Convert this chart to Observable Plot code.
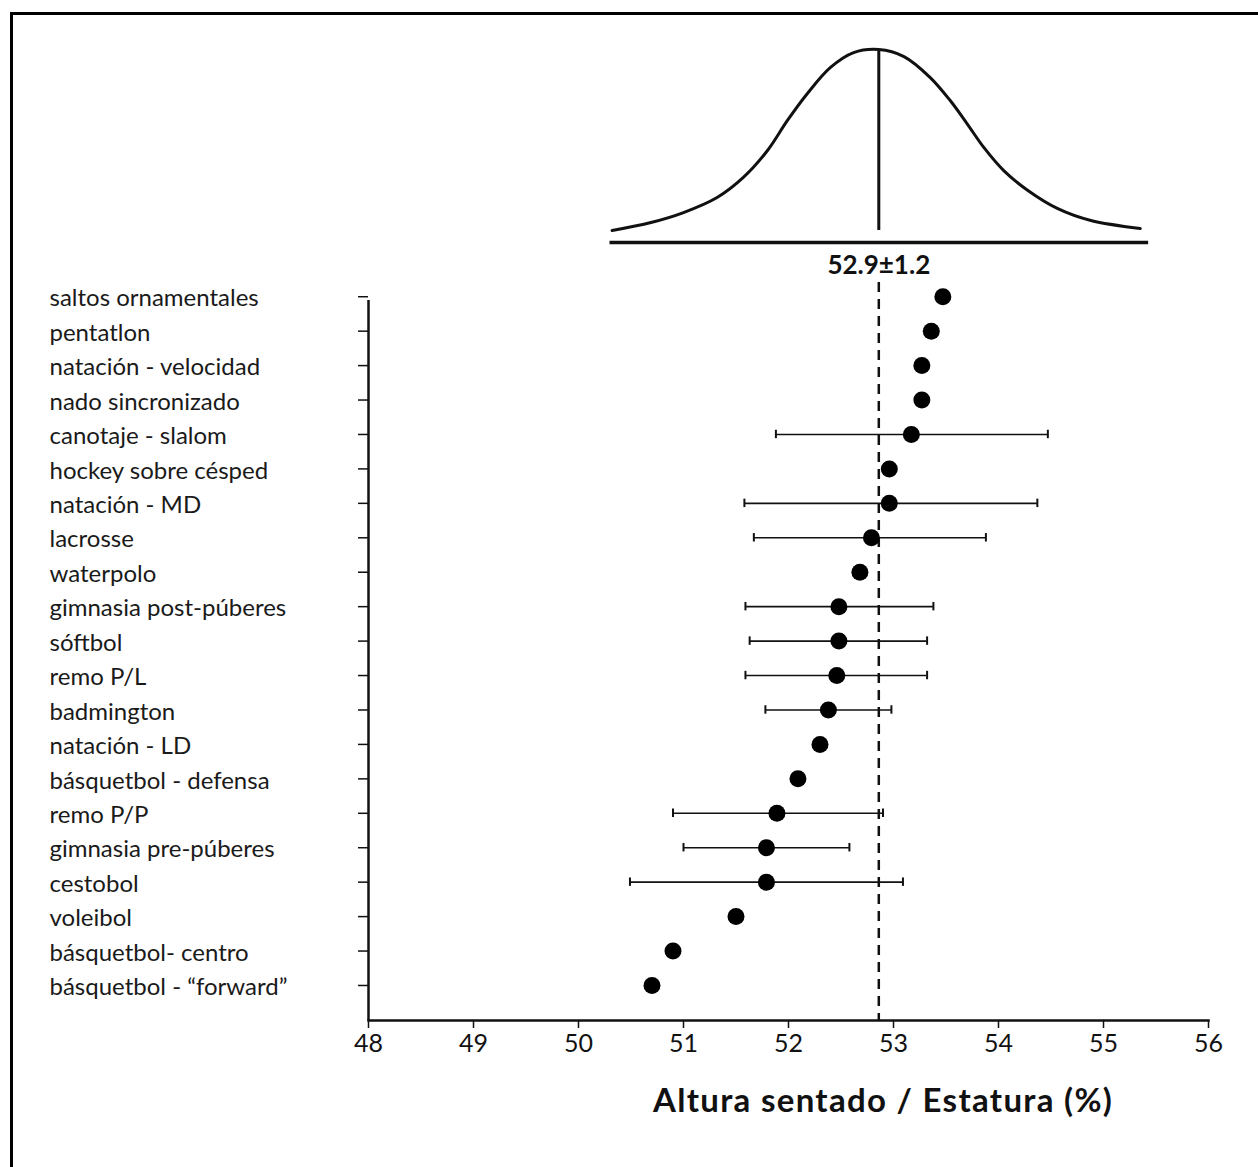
<!DOCTYPE html>
<html>
<head>
<meta charset="utf-8">
<script src="https://cdn.jsdelivr.net/npm/d3@7"></script>
<script src="https://cdn.jsdelivr.net/npm/@observablehq/plot@0.6"></script>
<style>
  body { margin: 0; background: #fff; }
  #wrap { position: relative; width: 1258px; height: 1167px; background: #fff; overflow: hidden; font-family: Lato, "Open Sans", sans-serif; }
  #border { position: absolute; left: 10px; top: 12px; right: -10px; bottom: -10px; border-top: 3px solid #000; border-left: 3px solid #000; }
  #bell, #main { position: absolute; left: 0; top: 0; }
  #xtitle { position: absolute; left: 0; width: 1258px; top: 1079px; text-align: left; padding-left: 653px; box-sizing: border-box; font-family: Lato, sans-serif; font-weight: 700; font-size: 33px; letter-spacing: 1.3px; color: #111; }
</style>
</head>
<body>
<div id="wrap">
  <div id="border"></div>
  <div id="main"></div>
  <div id="bell"></div>
  <div id="xtitle">Altura sentado / Estatura (%)</div>
</div>
<script>
// ---- data ----
const categories = [
  "saltos ornamentales", "pentatlon", "natación - velocidad", "nado sincronizado",
  "canotaje - slalom", "hockey sobre césped", "natación - MD", "lacrosse", "waterpolo",
  "gimnasia post-púberes", "sóftbol", "remo P/L", "badmington", "natación - LD",
  "básquetbol - defensa", "remo P/P", "gimnasia pre-púberes", "cestobol", "voleibol",
  "básquetbol- centro", "básquetbol - “forward”"
];
const means = [53.47, 53.36, 53.27, 53.27, 53.17, 52.96, 52.96, 52.79, 52.68, 52.48, 52.48,
               52.46, 52.38, 52.30, 52.09, 51.89, 51.79, 51.79, 51.50, 50.90, 50.70];
const errLow  = [null, null, null, null, 51.88, null, 51.58, 51.67, null, 51.59, 51.63,
                 51.59, 51.78, null, null, 50.90, 51.00, 50.49, null, null, null];
const errHigh = [null, null, null, null, 54.47, null, 54.37, 53.88, null, 53.38, 53.32,
                 53.32, 52.98, null, null, 52.90, 52.58, 53.09, null, null, null];
const xTicks = [48, 49, 50, 51, 52, 53, 54, 55, 56];
const refMean = 52.86;
const refLabel = "52.9±1.2";
// bell curve (x in %, relative height)
const curveX = [50.32, 50.69, 51.0, 51.32, 51.57, 51.80, 51.99, 52.18, 52.40, 52.62, 52.86,
                53.10, 53.35, 53.54, 53.70, 53.86, 54.05, 54.28, 54.56, 54.88, 55.35];
const curveH = [0, 0.044, 0.099, 0.182, 0.293, 0.442, 0.608, 0.757, 0.901, 0.983, 1.0,
                0.961, 0.845, 0.718, 0.591, 0.459, 0.331, 0.221, 0.122, 0.055, 0.011];
const bellBase = [50.30, 55.43];

// ---- tables ----
const rows = categories.map((c, i) => ({name: c, mean: means[i], lo: errLow[i], hi: errHigh[i]}));
const errRows = rows.filter(d => d.lo != null);
const curve = curveX.map((x, i) => ({x, h: curveH[i]}));

const font = "Lato, 'Open Sans', sans-serif";

// ---- main chart ----
const main = Plot.plot({
  width: 1258,
  height: 1167,
  marginLeft: 368,
  marginRight: 50,
  marginTop: 300,
  marginBottom: 147,
  style: {fontFamily: font, color: "#111", background: "transparent", overflow: "visible"},
  x: {domain: [48, 56], ticks: xTicks},
  y: {type: "band", domain: categories, range: [279.0, 1002.2], padding: 0, round: false},
  marks: [
    Plot.ruleX([48], {stroke: "#111", strokeWidth: 2.5}),
    Plot.frame({anchor: "bottom", stroke: "#111", strokeWidth: 2.5}),
    Plot.axisY({tickSize: 10, tickFormat: () => "", label: null, stroke: "#111", strokeWidth: 1.5}),
    Plot.text(categories, {y: d => d, frameAnchor: "left", textAnchor: "start", dx: -319, dy: 2, fontSize: 24, fill: "#1a1a1a"}),
    Plot.axisX({ticks: xTicks, tickSize: 8, tickPadding: 6, fontSize: 25, stroke: "#111", strokeWidth: 1.5, fill: "#111", label: null}),
    Plot.ruleX([refMean], {stroke: "#111", strokeWidth: 2.5, strokeDasharray: "10,7", insetTop: -18}),
    Plot.ruleY(errRows, {y: "name", x1: "lo", x2: "hi", stroke: "#111", strokeWidth: 1.6}),
    Plot.tickX(errRows, {y: "name", x: "lo", stroke: "#111", strokeWidth: 2, insetTop: 13, insetBottom: 13}),
    Plot.tickX(errRows, {y: "name", x: "hi", stroke: "#111", strokeWidth: 2, insetTop: 13, insetBottom: 13}),
    Plot.dot(rows, {x: "mean", y: "name", r: 8.5, fill: "#000", stroke: "none"})
  ]
});
document.getElementById("main").appendChild(main);

// ---- bell curve ----
const bell = Plot.plot({
  width: 1258,
  height: 300,
  marginLeft: 368,
  marginRight: 50,
  marginTop: 0,
  marginBottom: 0,
  style: {fontFamily: font, color: "#111", background: "transparent", overflow: "visible"},
  x: {domain: [48, 56], axis: null},
  y: {domain: [0, 1], range: [230, 49], axis: null},
  marks: [
    Plot.line(curve, {x: "x", y: "h", curve: "catmull-rom", stroke: "#111", strokeWidth: 3}),
    Plot.ruleX([refMean], {y1: 0, y2: 1, stroke: "#111", strokeWidth: 3}),
    Plot.ruleY([-0.066], {x1: bellBase[0], x2: bellBase[1], stroke: "#111", strokeWidth: 3.5}),
    Plot.text([refLabel], {x: refMean, y: 0, dy: 35, text: d => d, fontSize: 26, fontWeight: 700, fill: "#111"})
  ]
});
document.getElementById("bell").appendChild(bell);
</script>
</body>
</html>
